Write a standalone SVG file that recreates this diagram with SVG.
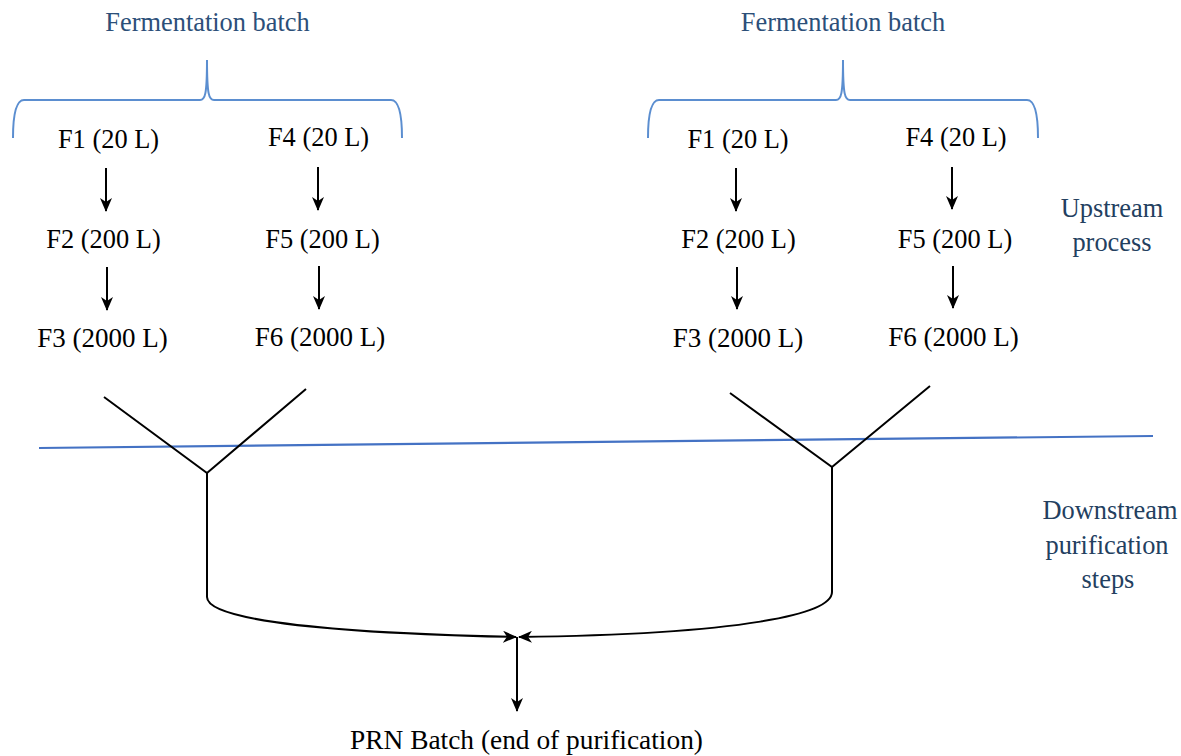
<svg xmlns="http://www.w3.org/2000/svg" width="1181" height="756" viewBox="0 0 1181 756">
<defs>
<style>
text{font-family:'Liberation Serif';font-size:26.4px;fill:#000;text-anchor:middle}
.big{font-size:27px}
.prn{font-size:27.4px}
.lb{fill:#2C4F79}
.side{fill:#23405F}
.br{fill:none;stroke:#5B8ED0;stroke-width:2}
.ln{fill:none;stroke:#000;stroke-width:2}
.ar{fill:none;stroke:#000;stroke-width:2;marker-end:url(#ah)}
.div{stroke:#4472C4;stroke-width:2.2;fill:none}
</style>
<marker id="ah" viewBox="0 0 14 12" refX="13" refY="6" markerWidth="14" markerHeight="12" markerUnits="userSpaceOnUse" orient="auto">
<path d="M0,0 L14,6 L0,12 L4,6 z" fill="#000"/>
</marker>
</defs>
<rect width="1181" height="756" fill="#fff"/>

<g id="labels" font-family="Liberation Serif">
<text id="ferm-left" class="lb" x="207.5" y="31">Fermentation batch</text>
<text id="ferm-right" class="lb" x="843" y="31">Fermentation batch</text>
<text class="side" x="1112" y="217">Upstream</text>
<text class="side" x="1112" y="251">process</text>
<text class="side" x="1110" y="519">Downstream</text>
<text class="side" x="1107" y="554">purification</text>
<text class="side" x="1108" y="588">steps</text>
</g>

<g id="brackets">
<path class="br" d="M13,138 Q13,100 24,100 L200,100 C205,100 207,95 207,60 C207,95 209,100 214,100 L391,100 Q402,100 402,138"/>
<path class="br" d="M648,138 Q648,100 659,100 L836,100 C841,100 843,95 843,60 C843,95 845,100 850,100 L1027,100 Q1038,100 1038,138"/>
</g>

<line id="divider" class="div" x1="39" y1="448" x2="1153" y2="436"/>

<g id="n-l-f1"><text x="108.5" y="148">F1 (20 L)</text></g>
<g id="n-l-f2"><text x="103.5" y="248">F2 (200 L)</text></g>
<g id="n-l-f3"><text class="big" x="102.5" y="347">F3 (2000 L)</text></g>
<g id="n-l-f4"><text x="318.5" y="146">F4 (20 L)</text></g>
<g id="n-l-f5"><text x="322.5" y="248">F5 (200 L)</text></g>
<g id="n-l-f6"><text class="big" x="320" y="346">F6 (2000 L)</text></g>

<g id="n-r-f1"><text x="738" y="148">F1 (20 L)</text></g>
<g id="n-r-f2"><text x="738.5" y="248">F2 (200 L)</text></g>
<g id="n-r-f3"><text class="big" x="738" y="347">F3 (2000 L)</text></g>
<g id="n-r-f4"><text x="956" y="146">F4 (20 L)</text></g>
<g id="n-r-f5"><text x="955" y="248">F5 (200 L)</text></g>
<g id="n-r-f6"><text class="big" x="953.5" y="346">F6 (2000 L)</text></g>

<g id="n-prn"><text class="prn" x="526.5" y="749">PRN Batch (end of purification)</text></g>

<g id="connectors">
<line class="ar" x1="106" y1="168" x2="106" y2="211"/>
<line class="ar" x1="107" y1="267" x2="107" y2="310"/>
<line class="ar" x1="318" y1="167" x2="318" y2="210"/>
<line class="ar" x1="319" y1="266" x2="319" y2="309"/>
<line class="ar" x1="736" y1="168" x2="736" y2="211"/>
<line class="ar" x1="737" y1="267" x2="737" y2="309"/>
<line class="ar" x1="952" y1="167" x2="952" y2="209"/>
<line class="ar" x1="953" y1="266" x2="953" y2="308"/>

<path class="ln" d="M104,397 L207,473 L306,389"/>
<path class="ln" d="M730,393 L832,467 L930,386"/>

<path class="ar" d="M207,473 L207,597 C207,616 290,632 516,637"/>
<path class="ar" d="M832,467 L832,592 C832,614 745,634 519,637"/>
<line class="ar" x1="517" y1="637" x2="517" y2="711"/>
</g>
</svg>
